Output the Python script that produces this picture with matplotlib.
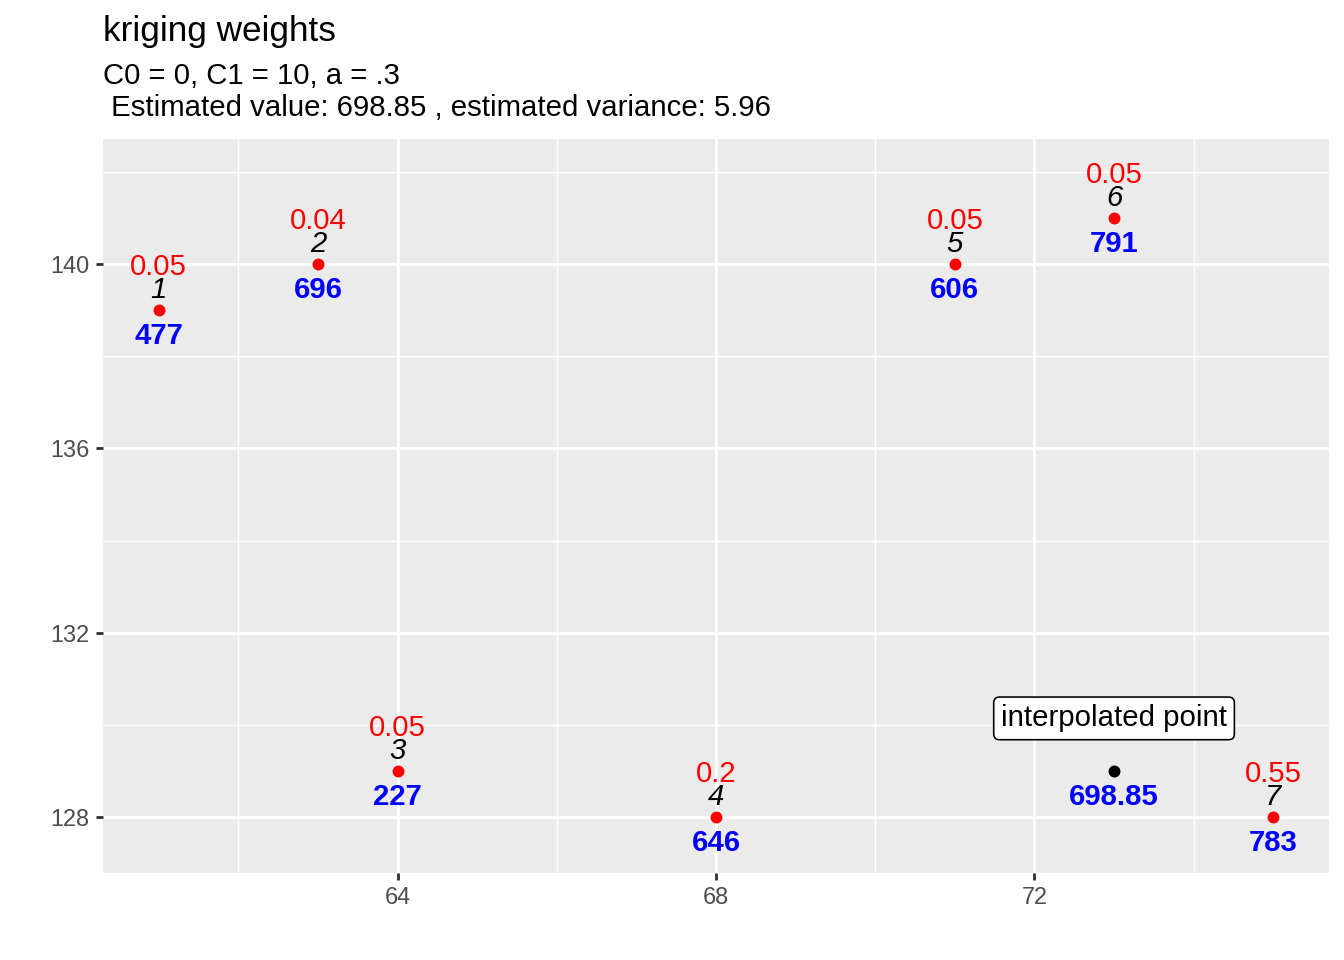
import matplotlib
matplotlib.use('Agg')
import matplotlib.pyplot as plt
import matplotlib.transforms as mtransforms
from matplotlib.ticker import FixedLocator

plt.rcParams['font.family'] = ['Liberation Sans', 'DejaVu Sans']

# sample points
xs = [61, 63, 64, 68, 71, 73, 75]
ys = [139, 140, 129, 128, 140, 141, 128]
values = [477, 696, 227, 646, 606, 791, 783]
weights = ['0.05', '0.04', '0.05', '0.2', '0.05', '0.05', '0.55']
ids = ['1', '2', '3', '4', '5', '6', '7']

# interpolated point
x0, y0 = 73, 129
est_value = '698.85'
label_y = 130.2

title = 'kriging weights'
subtitle = 'C0 = 0, C1 = 10, a = .3\n Estimated value: 698.85 , estimated variance: 5.96'

fig = plt.figure(figsize=(7, 5), dpi=192)
ax = fig.add_axes([103 / 1344, 1 - 873 / 960, (1329 - 103) / 1344, (873 - 139) / 960])
ax.set_facecolor('#EBEBEB')
for s in ax.spines.values():
    s.set_visible(False)

ax.set_xlim(60.3, 75.7)
ax.set_ylim(126.775, 142.725)
ax.xaxis.set_major_locator(FixedLocator([64, 68, 72]))
ax.xaxis.set_minor_locator(FixedLocator([62, 66, 70, 74]))
ax.yaxis.set_major_locator(FixedLocator([128, 132, 136, 140]))
ax.yaxis.set_minor_locator(FixedLocator([130, 134, 138, 142]))
ax.grid(which='major', color='white', linewidth=1.07)
ax.grid(which='minor', color='white', linewidth=0.53)
ax.set_axisbelow(True)
ax.tick_params(which='major', length=2.75, width=1.07, color='#333333',
               labelsize=8.8, labelcolor='#4D4D4D', pad=2.2)
ax.tick_params(which='minor', length=0)

ax.scatter(xs, ys, s=20, color='red', zorder=3, linewidths=0)
ax.scatter([x0], [y0], s=20, color='black', zorder=3, linewidths=0)

# nudge text a few pixels down so it centres like ggplot text
tr = ax.transData + mtransforms.ScaledTranslation(0, -3 / 192, fig.dpi_scale_trans)

for x, y, v, w, i in zip(xs, ys, values, weights, ids):
    ax.text(x, y + 1, w, color='red', fontsize=11, ha='center', va='center',
            transform=tr)
    ax.text(x, y + 0.5, i, color='black', fontsize=11, style='italic',
            ha='center', va='center', transform=tr)
    ax.text(x, y - 0.5, str(v), color='blue', fontsize=11, fontweight='bold',
            ha='center', va='center', transform=tr)

ax.text(x0, y0 - 0.5, est_value, color='blue', fontsize=11, fontweight='bold',
        ha='center', va='center', transform=tr)
ax.text(x0, label_y, 'interpolated point', color='black', fontsize=11,
        ha='center', va='center', transform=tr,
        bbox=dict(boxstyle='round,pad=0.25,rounding_size=0.2', fc='white',
                  ec='black', lw=0.6))

fig.text(103 / 1344, 1 - 41 / 960, title, fontsize=13.2, ha='left', va='baseline')
fig.text(103 / 1344, 1 - 116 / 960, subtitle, fontsize=11, ha='left',
         va='baseline', linespacing=1.2)

fig.savefig('out.png', dpi=192)
